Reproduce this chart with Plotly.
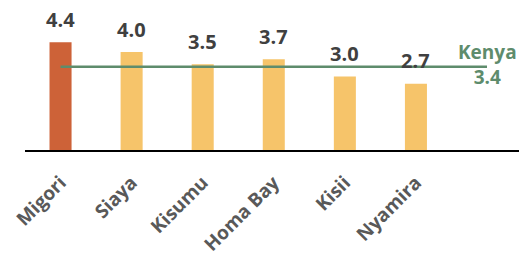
import plotly.graph_objects as go

counties = ["Migori", "Siaya", "Kisumu", "Homa Bay", "Kisii", "Nyamira"]
values = [4.4, 4.0, 3.5, 3.7, 3.0, 2.7]
value_labels = ["4.4", "4.0", "3.5", "3.7", "3.0", "2.7"]
highlight = "Migori"
kenya_label = "Kenya"
kenya_value = 3.4

c_high = "#CD6238"
c_norm = "#F6C46A"
c_green = "#5E8C6C"

xs = list(range(len(counties)))
colors = [c_high if c == highlight else c_norm for c in counties]

fig = go.Figure()
fig.add_trace(go.Bar(x=xs, y=values, marker_color=colors, width=0.31,
                     marker_line_width=0, hoverinfo="skip"))

fig.add_shape(type="line", xref="x", yref="y", x0=0, x1=6.0,
              y0=kenya_value, y1=kenya_value,
              line=dict(color=c_green, width=2.5), layer="above")

for x, v, t in zip(xs, values, value_labels):
    fig.add_annotation(x=x, y=v, text=t, showarrow=False, yanchor="middle",
                       yshift=23, font=dict(family="Open Sans", size=20,
                                            color="#404040", weight="bold"))

fig.add_annotation(x=6.0, y=kenya_value, text=f"{kenya_label}<br>{kenya_value}",
                   showarrow=False, yanchor="middle", xanchor="center", yshift=2,
                   font=dict(family="Open Sans", size=19, color=c_green, weight="bold"))

fig.update_layout(
    width=519, height=255,
    margin=dict(l=25, r=0, t=0, b=105, autoexpand=False),
    plot_bgcolor="white", paper_bgcolor="white",
    showlegend=False, bargap=0.5,
    xaxis=dict(range=[-0.5, 6.45], tickvals=xs, ticktext=counties,
               tickangle=-45, showgrid=False, zeroline=False, automargin=False,
               showline=True, linecolor="black", linewidth=2, ticks="",
               ticklabelstandoff=12,
               tickfont=dict(family="Open Sans", size=19, color="#595959", weight="bold")),
    yaxis=dict(range=[0, 150 / 24.5], visible=False, showgrid=False, zeroline=False,
               automargin=False),
)

fig.write_html("out.html", config={"displayModeBar": False},
               post_script="document.body.style.margin='0';")
